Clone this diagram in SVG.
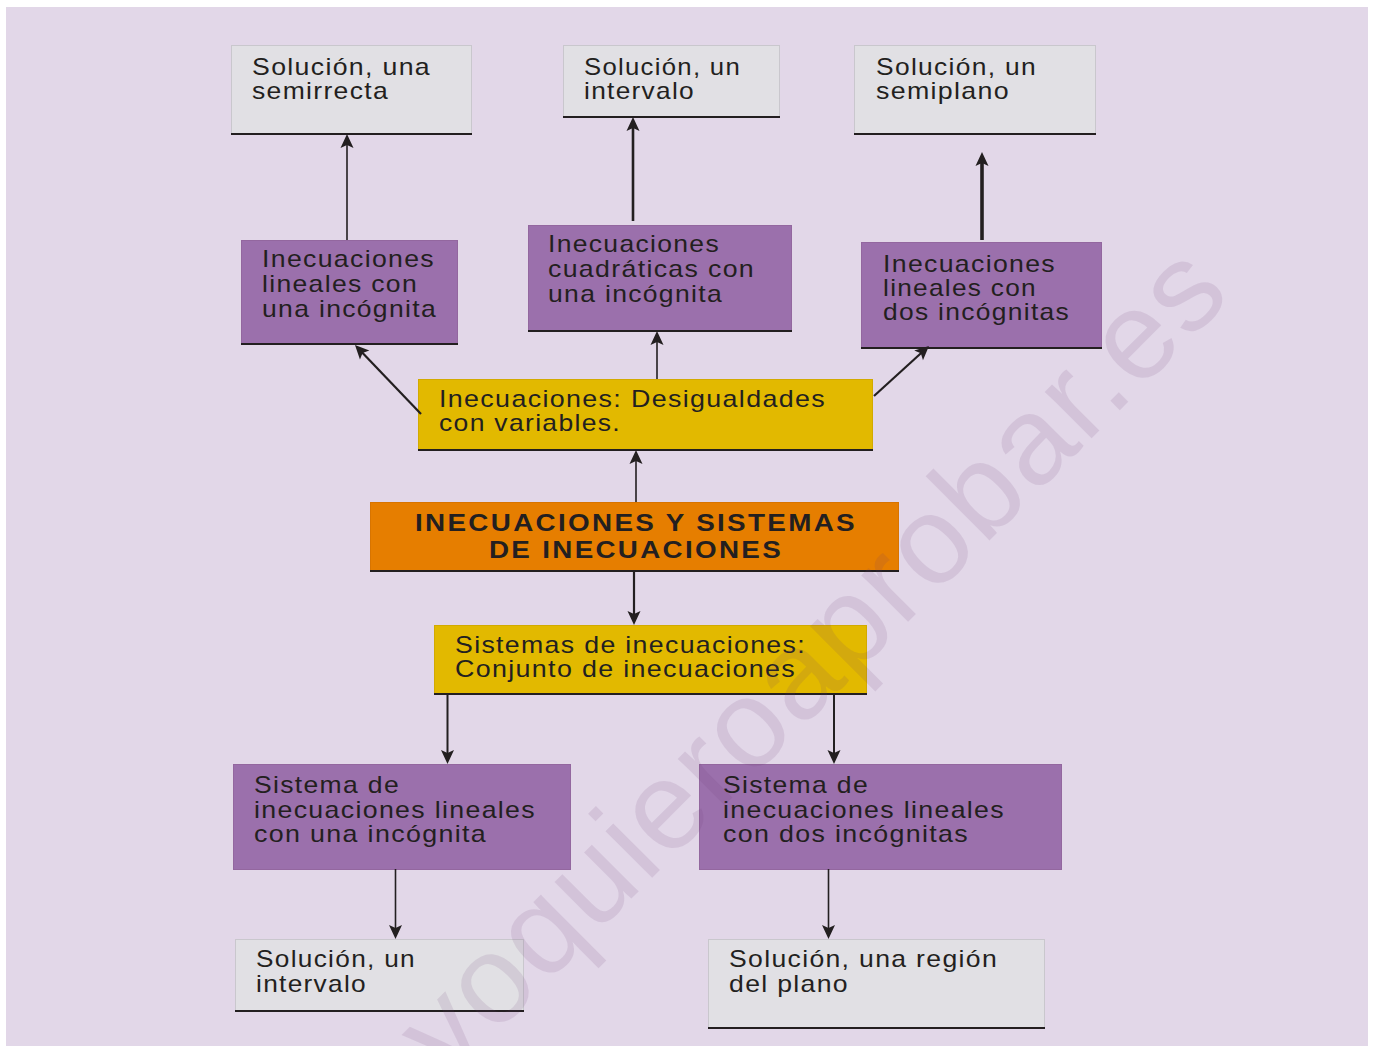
<svg xmlns="http://www.w3.org/2000/svg" width="1373" height="1046" viewBox="0 0 1373 1046">
<style>
  .bg{fill:#e2d7e8}
  .gray{fill:#e1e0e4;stroke:#c9c7cd;stroke-width:1}
  .purple{fill:#9b70ac;stroke:#93679f;stroke-width:1}
  .yellow{fill:#e2b900;stroke:#d2aa00;stroke-width:1}
  .orange{fill:#e67e00;stroke:#d87400;stroke-width:1}
  .base{stroke:#231f20;stroke-width:2}
  .t{font-family:"Liberation Sans",Arial,Helvetica,sans-serif;font-size:24px;letter-spacing:1.2px;fill:#231f20}
  .tb{font-family:"Liberation Sans",Arial,Helvetica,sans-serif;font-size:24px;font-weight:bold;letter-spacing:2px;fill:#231f20}
  .c{fill:none;stroke:#231f20;stroke-width:1.6}
  .wm{font-family:"Liberation Sans",Arial,Helvetica,sans-serif;font-size:125px;fill:#6b3d73;fill-opacity:0.12}
</style>
<defs>
  <marker id="ah" markerUnits="userSpaceOnUse" markerWidth="20" markerHeight="20" viewBox="-10 -10 20 20" refX="0" refY="0" orient="auto" overflow="visible">
    <path d="M9,0 L-5,-6.5 L-2,0 L-5,6.5 Z" fill="#231f20"/>
  </marker>
</defs>
<rect class="bg" x="6" y="7" width="1362" height="1039"/>

<g id="n1">
  <rect class="gray" x="231.5" y="45.5" width="240" height="89"/>
  <line class="base" x1="231" y1="134" x2="472" y2="134"/>
  <text class="t" x="252" y="75" textLength="179" lengthAdjust="spacingAndGlyphs">Solución, una</text>
  <text class="t" x="252" y="99" textLength="137" lengthAdjust="spacingAndGlyphs">semirrecta</text>
</g>
<g id="n2">
  <rect class="gray" x="563.5" y="45.5" width="216" height="72"/>
  <line class="base" x1="563" y1="117" x2="780" y2="117"/>
  <text class="t" x="584" y="75" textLength="157" lengthAdjust="spacingAndGlyphs">Solución, un</text>
  <text class="t" x="584" y="99" textLength="111" lengthAdjust="spacingAndGlyphs">intervalo</text>
</g>
<g id="n3">
  <rect class="gray" x="854.5" y="45.5" width="241" height="89"/>
  <line class="base" x1="854" y1="134" x2="1096" y2="134"/>
  <text class="t" x="876" y="75" textLength="161" lengthAdjust="spacingAndGlyphs">Solución, un</text>
  <text class="t" x="876" y="99" textLength="134" lengthAdjust="spacingAndGlyphs">semiplano</text>
</g>
<g id="n4">
  <rect class="purple" x="241.5" y="240.5" width="216" height="104"/>
  <line class="base" x1="241" y1="344" x2="458" y2="344"/>
  <text class="t" x="262" y="267" textLength="173" lengthAdjust="spacingAndGlyphs">Inecuaciones</text>
  <text class="t" x="262" y="292" textLength="156" lengthAdjust="spacingAndGlyphs">lineales con</text>
  <text class="t" x="262" y="317" textLength="175" lengthAdjust="spacingAndGlyphs">una incógnita</text>
</g>
<g id="n5">
  <rect class="purple" x="528.5" y="225.5" width="263" height="106"/>
  <line class="base" x1="528" y1="331" x2="792" y2="331"/>
  <text class="t" x="548" y="252" textLength="172" lengthAdjust="spacingAndGlyphs">Inecuaciones</text>
  <text class="t" x="548" y="277" textLength="207" lengthAdjust="spacingAndGlyphs">cuadráticas con</text>
  <text class="t" x="548" y="302" textLength="175" lengthAdjust="spacingAndGlyphs">una incógnita</text>
</g>
<g id="n6">
  <rect class="purple" x="861.5" y="242.5" width="240" height="106"/>
  <line class="base" x1="861" y1="348" x2="1102" y2="348"/>
  <text class="t" x="883" y="272" textLength="173" lengthAdjust="spacingAndGlyphs">Inecuaciones</text>
  <text class="t" x="883" y="296" textLength="154" lengthAdjust="spacingAndGlyphs">lineales con</text>
  <text class="t" x="883" y="320" textLength="187" lengthAdjust="spacingAndGlyphs">dos incógnitas</text>
</g>
<g id="n7">
  <rect class="yellow" x="418.5" y="379.5" width="454" height="71"/>
  <line class="base" x1="418" y1="450" x2="873" y2="450"/>
  <text class="t" x="439" y="407" textLength="387" lengthAdjust="spacingAndGlyphs">Inecuaciones: Desigualdades</text>
  <text class="t" x="439" y="431" textLength="182" lengthAdjust="spacingAndGlyphs">con variables.</text>
</g>
<g id="n8">
  <rect class="orange" x="370.5" y="502.5" width="528" height="69"/>
  <line class="base" x1="370" y1="571" x2="899" y2="571"/>
  <text class="tb" x="415" y="531" textLength="442" lengthAdjust="spacingAndGlyphs">INECUACIONES Y SISTEMAS</text>
  <text class="tb" x="489" y="558" textLength="294" lengthAdjust="spacingAndGlyphs">DE INECUACIONES</text>
</g>
<g id="n9">
  <rect class="yellow" x="434.5" y="625.5" width="432" height="69"/>
  <line class="base" x1="434" y1="694" x2="867" y2="694"/>
  <text class="t" x="455" y="653" textLength="351" lengthAdjust="spacingAndGlyphs">Sistemas de inecuaciones:</text>
  <text class="t" x="455" y="677" textLength="341" lengthAdjust="spacingAndGlyphs">Conjunto de inecuaciones</text>
</g>
<g id="n10">
  <rect class="purple" x="233.5" y="764.5" width="337" height="105"/>
  <text class="t" x="254" y="793" textLength="146" lengthAdjust="spacingAndGlyphs">Sistema de</text>
  <text class="t" x="254" y="818" textLength="282" lengthAdjust="spacingAndGlyphs">inecuaciones lineales</text>
  <text class="t" x="254" y="842" textLength="233" lengthAdjust="spacingAndGlyphs">con una incógnita</text>
</g>
<g id="n11">
  <rect class="purple" x="699.5" y="764.5" width="362" height="105"/>
  <text class="t" x="723" y="793" textLength="146" lengthAdjust="spacingAndGlyphs">Sistema de</text>
  <text class="t" x="723" y="818" textLength="282" lengthAdjust="spacingAndGlyphs">inecuaciones lineales</text>
  <text class="t" x="723" y="842" textLength="246" lengthAdjust="spacingAndGlyphs">con dos incógnitas</text>
</g>
<g id="n12">
  <rect class="gray" x="235.5" y="939.5" width="288" height="72"/>
  <line class="base" x1="235" y1="1011" x2="524" y2="1011"/>
  <text class="t" x="256" y="967" textLength="160" lengthAdjust="spacingAndGlyphs">Solución, un</text>
  <text class="t" x="256" y="992" textLength="111" lengthAdjust="spacingAndGlyphs">intervalo</text>
</g>
<g id="n13">
  <rect class="gray" x="708.5" y="939.5" width="336" height="89"/>
  <line class="base" x1="708" y1="1028" x2="1045" y2="1028"/>
  <text class="t" x="729" y="967" textLength="269" lengthAdjust="spacingAndGlyphs">Solución, una región</text>
  <text class="t" x="729" y="992" textLength="120" lengthAdjust="spacingAndGlyphs">del plano</text>
</g>

<g id="connectors">
  <path class="c" d="M347,240 V143" marker-end="url(#ah)"/>
  <path class="c" style="stroke-width:2.6" d="M633,221 V126" marker-end="url(#ah)"/>
  <path class="c" style="stroke-width:3.6" d="M982,240 V161" marker-end="url(#ah)"/>
  <path class="c" style="stroke-width:2.2" d="M421,414 L361.2,351.5" marker-end="url(#ah)"/>
  <path class="c" d="M657,379 V340" marker-end="url(#ah)"/>
  <path class="c" style="stroke-width:2.2" d="M874,396 L922.3,352" marker-end="url(#ah)"/>
  <path class="c" d="M636,502 V459" marker-end="url(#ah)"/>
  <path class="c" style="stroke-width:2.2" d="M634,571 V616" marker-end="url(#ah)"/>
  <path class="c" style="stroke-width:2" d="M447.5,694 V755" marker-end="url(#ah)"/>
  <path class="c" style="stroke-width:2" d="M834,694 V755" marker-end="url(#ah)"/>
  <path class="c" d="M395.5,869 V930" marker-end="url(#ah)"/>
  <path class="c" d="M828.5,869 V930" marker-end="url(#ah)"/>
</g>

<text class="wm" x="448" y="1082" transform="rotate(-45 448 1082)" textLength="1110" lengthAdjust="spacing">yoquieroaprobar.es</text>
</svg>
